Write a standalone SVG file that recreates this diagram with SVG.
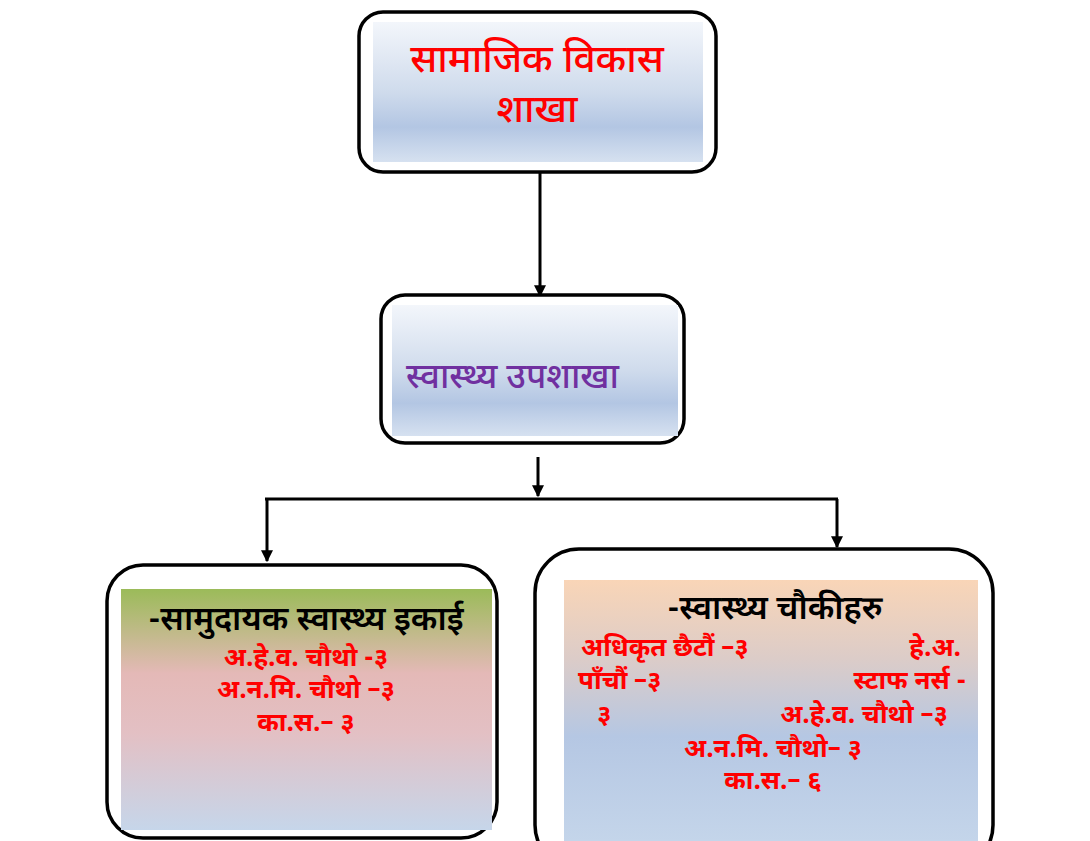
<svg xmlns="http://www.w3.org/2000/svg" width="1090" height="841" viewBox="0 0 1090 841">
<defs>
<linearGradient id="gBlue" x1="0" y1="0" x2="0" y2="1">
<stop offset="0" stop-color="#f3f6fb"/>
<stop offset="0.5" stop-color="#cfdbec"/>
<stop offset="0.75" stop-color="#b3c6e3"/>
<stop offset="1" stop-color="#d6e1f0"/>
</linearGradient>
<linearGradient id="gLeft" x1="0" y1="0" x2="0" y2="1">
<stop offset="0" stop-color="#9bbb59"/>
<stop offset="0.35" stop-color="#e4b9b7"/>
<stop offset="0.6" stop-color="#e3c0c4"/>
<stop offset="1" stop-color="#c6d6ea"/>
</linearGradient>
<linearGradient id="gRight" x1="0" y1="0" x2="0" y2="1">
<stop offset="0" stop-color="#f9d5b7"/>
<stop offset="0.3" stop-color="#dcccc8"/>
<stop offset="0.6" stop-color="#b5c7e3"/>
<stop offset="1" stop-color="#c4d5ea"/>
</linearGradient>
<marker id="arr" viewBox="0 0 10 10" refX="9" refY="5" markerWidth="4" markerHeight="4" orient="auto">
<path d="M0,0 L10,5 L0,10 z" fill="#000"/>
</marker>
</defs>
<style>
.box{fill:#fff;stroke:#000;stroke-width:3.5}
.con{fill:none;stroke:#000;stroke-width:3}
text{font-family:"Noto Sans Devanagari","Noto Sans","Lohit Devanagari",sans-serif}
.red{fill:#ff0000;font-weight:bold;font-size:26px}
.blk{fill:#000;font-size:33px;font-weight:600}
</style>
<rect width="1090" height="841" fill="#fff"/>
<g id="connectors">
<line class="con" x1="540" y1="172" x2="540" y2="296" marker-end="url(#arr)"/>
<line class="con" x1="538" y1="457" x2="538" y2="496" marker-end="url(#arr)"/>
<polyline class="con" points="265,499 838,499"/>
<line class="con" x1="267" y1="499" x2="267" y2="561" marker-end="url(#arr)"/>
<line class="con" x1="837" y1="499" x2="837" y2="547" marker-end="url(#arr)"/>
</g>
<g id="node-branch">
<rect class="box" x="359" y="12" width="357" height="160" rx="24"/>
<rect x="373" y="22" width="330" height="140" fill="url(#gBlue)"/>
<text x="537" y="72" text-anchor="middle" fill="#ff0000" font-size="39" font-weight="500">सामाजिक विकास</text>
<text x="537" y="122" text-anchor="middle" fill="#ff0000" font-size="39" font-weight="500">शाखा</text>
</g>
<g id="node-subbranch">
<rect class="box" x="381" y="295" width="303" height="148" rx="24"/>
<rect x="392" y="305" width="286" height="131" fill="url(#gBlue)"/>
<text x="406" y="388" fill="#7030a0" font-size="35" font-weight="500">स्वास्थ्य उपशाखा</text>
</g>
<g id="node-community">
<rect class="box" x="107" y="565" width="390" height="273" rx="36"/>
<rect x="121" y="589" width="371" height="241" fill="url(#gLeft)"/>
<text class="blk" x="306" y="630" text-anchor="middle">-सामुदायक स्वास्थ्य इकाई</text>
<text class="red" x="306" y="666" text-anchor="middle">अ.हे.व. चौथो -३</text>
<text class="red" x="306" y="698" text-anchor="middle">अ.न.मि. चौथो –३</text>
<text class="red" x="306" y="731" text-anchor="middle">का.स.– ३</text>
</g>
<g id="node-posts">
<rect class="box" x="535" y="549" width="458" height="320" rx="44"/>
<rect x="564" y="580" width="414" height="261" fill="url(#gRight)"/>
<text class="blk" x="775" y="619" text-anchor="middle">-स्वास्थ्य चौकीहरु</text>
<text class="red" x="581" y="656">अधिकृत छैटौं –३</text>
<text class="red" x="961" y="656" text-anchor="end">हे.अ.</text>
<text class="red" x="578" y="689">पाँचौं –३</text>
<text class="red" x="966" y="689" text-anchor="end">स्टाफ नर्स -</text>
<text class="red" x="597" y="723">३</text>
<text class="red" x="948" y="723" text-anchor="end">अ.हे.व. चौथो –३</text>
<text class="red" x="773" y="757" text-anchor="middle">अ.न.मि. चौथो– ३</text>
<text class="red" x="773" y="789" text-anchor="middle">का.स.– ६</text>
</g>
</svg>
